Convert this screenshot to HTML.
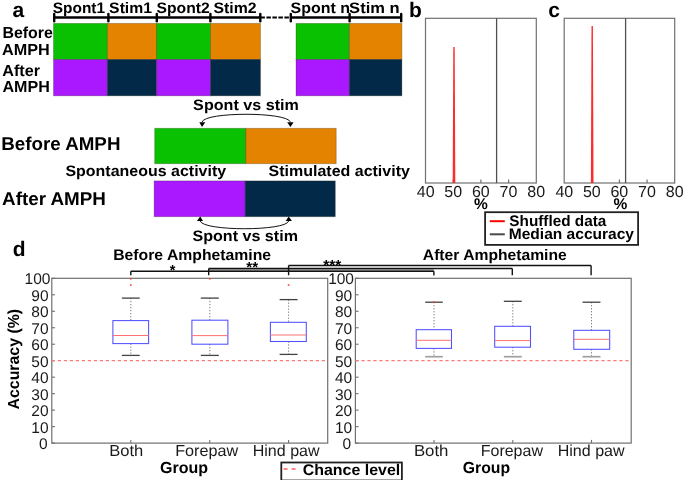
<!DOCTYPE html>
<html><head><meta charset="utf-8"><style>
html,body{margin:0;padding:0;background:#fff;}
svg{display:block;font-family:"Liberation Sans",sans-serif;text-rendering:geometricPrecision;will-change:transform;}
</style></head><body>
<svg width="685" height="480" viewBox="0 0 685 480">
<rect width="685" height="480" fill="#fff"/>
<text x="12.57" y="16.70" font-size="21" font-weight="bold" fill="#000">a</text>
<rect x="53.5" y="23.4" width="53.90" height="36.10" fill="#09c100" stroke="rgba(30,20,0,0.28)" stroke-width="0.9"/>
<rect x="53.5" y="59.5" width="53.90" height="36.30" fill="#aa18ff" stroke="rgba(30,20,0,0.28)" stroke-width="0.9"/>
<rect x="107.4" y="23.4" width="49.20" height="36.10" fill="#e38300" stroke="rgba(30,20,0,0.28)" stroke-width="0.9"/>
<rect x="107.4" y="59.5" width="49.20" height="36.30" fill="#022a48" stroke="rgba(30,20,0,0.28)" stroke-width="0.9"/>
<rect x="156.6" y="23.4" width="53.90" height="36.10" fill="#09c100" stroke="rgba(30,20,0,0.28)" stroke-width="0.9"/>
<rect x="156.6" y="59.5" width="53.90" height="36.30" fill="#aa18ff" stroke="rgba(30,20,0,0.28)" stroke-width="0.9"/>
<rect x="210.5" y="23.4" width="50.00" height="36.10" fill="#e38300" stroke="rgba(30,20,0,0.28)" stroke-width="0.9"/>
<rect x="210.5" y="59.5" width="50.00" height="36.30" fill="#022a48" stroke="rgba(30,20,0,0.28)" stroke-width="0.9"/>
<rect x="296.0" y="23.4" width="53.40" height="36.10" fill="#09c100" stroke="rgba(30,20,0,0.28)" stroke-width="0.9"/>
<rect x="296.0" y="59.5" width="53.40" height="36.30" fill="#aa18ff" stroke="rgba(30,20,0,0.28)" stroke-width="0.9"/>
<rect x="349.4" y="23.4" width="52.50" height="36.10" fill="#e38300" stroke="rgba(30,20,0,0.28)" stroke-width="0.9"/>
<rect x="349.4" y="59.5" width="52.50" height="36.30" fill="#022a48" stroke="rgba(30,20,0,0.28)" stroke-width="0.9"/>
<line x1="53.5" y1="17.5" x2="260.4" y2="17.5" stroke="#000" stroke-width="2.6"/>
<line x1="290.7" y1="17.5" x2="401.8" y2="17.5" stroke="#000" stroke-width="2.6"/>
<line x1="260.4" y1="17.5" x2="290.7" y2="17.5" stroke="#000" stroke-width="2.2" stroke-dasharray="4.5,1.5"/>
<line x1="54.2" y1="14.0" x2="54.2" y2="21.2" stroke="#000" stroke-width="2.4" stroke-linecap="round"/>
<line x1="108.4" y1="14.0" x2="108.4" y2="21.2" stroke="#000" stroke-width="2.4" stroke-linecap="round"/>
<line x1="156.8" y1="14.0" x2="156.8" y2="21.2" stroke="#000" stroke-width="2.4" stroke-linecap="round"/>
<line x1="210.4" y1="14.0" x2="210.4" y2="21.2" stroke="#000" stroke-width="2.4" stroke-linecap="round"/>
<line x1="260.3" y1="14.0" x2="260.3" y2="21.2" stroke="#000" stroke-width="2.4" stroke-linecap="round"/>
<line x1="290.8" y1="14.0" x2="290.8" y2="21.2" stroke="#000" stroke-width="2.4" stroke-linecap="round"/>
<line x1="349.6" y1="14.0" x2="349.6" y2="21.2" stroke="#000" stroke-width="2.4" stroke-linecap="round"/>
<line x1="401.2" y1="14.0" x2="401.2" y2="21.2" stroke="#000" stroke-width="2.4" stroke-linecap="round"/>
<text x="52.74" y="12.70" font-size="15.2" font-weight="bold" fill="#000" textLength="52.32" lengthAdjust="spacingAndGlyphs">Spont1</text>
<text x="109.14" y="12.70" font-size="15.2" font-weight="bold" fill="#000" textLength="42.88" lengthAdjust="spacingAndGlyphs">Stim1</text>
<text x="156.54" y="12.70" font-size="15.2" font-weight="bold" fill="#000" textLength="53.25" lengthAdjust="spacingAndGlyphs">Spont2</text>
<text x="213.54" y="12.70" font-size="15.2" font-weight="bold" fill="#000" textLength="43.11" lengthAdjust="spacingAndGlyphs">Stim2</text>
<text x="290.64" y="12.70" font-size="15.2" font-weight="bold" fill="#000" textLength="59.49" lengthAdjust="spacingAndGlyphs">Spont n</text>
<text x="349.14" y="12.70" font-size="15.2" font-weight="bold" fill="#000" textLength="50.48" lengthAdjust="spacingAndGlyphs">Stim n</text>
<text x="2.46" y="38.40" font-size="16" font-weight="bold" fill="#000" textLength="50.44" lengthAdjust="spacingAndGlyphs">Before</text>
<text x="2.10" y="54.50" font-size="16" font-weight="bold" fill="#000" textLength="47.71" lengthAdjust="spacingAndGlyphs">AMPH</text>
<text x="2.30" y="75.70" font-size="16" font-weight="bold" fill="#000" textLength="37.72" lengthAdjust="spacingAndGlyphs">After</text>
<text x="2.50" y="92.20" font-size="16" font-weight="bold" fill="#000" textLength="47.31" lengthAdjust="spacingAndGlyphs">AMPH</text>
<text x="193.14" y="110.30" font-size="15.2" font-weight="bold" fill="#000" textLength="105.72" lengthAdjust="spacingAndGlyphs">Spont vs stim</text>
<path d="M202,122 C205,111.7 287,111.7 290.4,122" stroke="#111" stroke-width="1.0" fill="none"/>
<path d="M199.3,122.3 L205.3,122.3 L202,126.9 Z" stroke="none" stroke-width="1" fill="#000"/>
<path d="M287.2,122.3 L293.6,122.3 L290.4,126.9 Z" stroke="none" stroke-width="1" fill="#000"/>
<rect x="154.7" y="128.3" width="91.10" height="35.40" fill="#09c100" stroke="rgba(30,20,0,0.28)" stroke-width="0.9"/>
<rect x="245.8" y="128.3" width="90.40" height="35.40" fill="#e38300" stroke="rgba(30,20,0,0.28)" stroke-width="0.9"/>
<text x="1.20" y="149.50" font-size="18.5" font-weight="bold" fill="#000" textLength="119.26" lengthAdjust="spacingAndGlyphs">Before AMPH</text>
<text x="65.44" y="176.00" font-size="15.2" font-weight="bold" fill="#000" textLength="160.68" lengthAdjust="spacingAndGlyphs">Spontaneous activity</text>
<text x="268.54" y="176.00" font-size="15.2" font-weight="bold" fill="#000" textLength="141.35" lengthAdjust="spacingAndGlyphs">Stimulated activity</text>
<rect x="154.1" y="180.9" width="91.10" height="35.80" fill="#aa18ff" stroke="rgba(30,20,0,0.28)" stroke-width="0.9"/>
<rect x="245.2" y="180.9" width="90.10" height="35.80" fill="#022a48" stroke="rgba(30,20,0,0.28)" stroke-width="0.9"/>
<text x="2.04" y="204.50" font-size="18.5" font-weight="bold" fill="#000" textLength="103.93" lengthAdjust="spacingAndGlyphs">After AMPH</text>
<path d="M200.2,221 C203,231.3 286,231.3 288.7,221" stroke="#111" stroke-width="1.0" fill="none"/>
<path d="M196.9,220.9 L203,220.9 L200.2,216.5 Z" stroke="none" stroke-width="1" fill="#000"/>
<path d="M285.7,220.9 L291.9,220.9 L288.7,216.5 Z" stroke="none" stroke-width="1" fill="#000"/>
<text x="192.44" y="240.70" font-size="15.2" font-weight="bold" fill="#000" textLength="105.52" lengthAdjust="spacingAndGlyphs">Spont vs stim</text>
<text x="409.03" y="16.80" font-size="21" font-weight="bold" fill="#000">b</text>
<rect x="425.5" y="18.3" width="110.80" height="164.70" fill="none" stroke="#707070" stroke-width="1.2"/>
<line x1="453.2" y1="183.0" x2="453.2" y2="179.5" stroke="#707070" stroke-width="1.2"/>
<line x1="480.9" y1="183.0" x2="480.9" y2="179.5" stroke="#707070" stroke-width="1.2"/>
<line x1="508.59999999999997" y1="183.0" x2="508.59999999999997" y2="179.5" stroke="#707070" stroke-width="1.2"/>
<text x="416.74" y="196.60" font-size="16" font-weight="normal" fill="#1a1a1a">40</text>
<text x="444.28" y="196.60" font-size="16" font-weight="normal" fill="#1a1a1a">50</text>
<text x="471.90" y="196.60" font-size="16" font-weight="normal" fill="#1a1a1a">60</text>
<text x="499.60" y="196.60" font-size="16" font-weight="normal" fill="#1a1a1a">70</text>
<text x="527.34" y="196.60" font-size="16" font-weight="normal" fill="#1a1a1a">80</text>
<text x="474.10" y="209.40" font-size="15.5" font-weight="bold" fill="#000">%</text>
<line x1="496.6" y1="18.3" x2="496.6" y2="183.0" stroke="#505050" stroke-width="1.3"/>
<path d="M453.3,46.9 L454.7,46.9 L455.3,183.0 L452.7,183.0 Z" stroke="none" stroke-width="1" fill="#ff2a2a"/>
<text x="548.16" y="16.80" font-size="21" font-weight="bold" fill="#000">c</text>
<rect x="564.2" y="18.3" width="110.50" height="164.70" fill="none" stroke="#707070" stroke-width="1.2"/>
<line x1="591.825" y1="183.0" x2="591.825" y2="179.5" stroke="#707070" stroke-width="1.2"/>
<line x1="619.45" y1="183.0" x2="619.45" y2="179.5" stroke="#707070" stroke-width="1.2"/>
<line x1="647.075" y1="183.0" x2="647.075" y2="179.5" stroke="#707070" stroke-width="1.2"/>
<text x="555.44" y="196.60" font-size="16" font-weight="normal" fill="#1a1a1a">40</text>
<text x="582.91" y="196.60" font-size="16" font-weight="normal" fill="#1a1a1a">50</text>
<text x="610.45" y="196.60" font-size="16" font-weight="normal" fill="#1a1a1a">60</text>
<text x="638.08" y="196.60" font-size="16" font-weight="normal" fill="#1a1a1a">70</text>
<text x="665.74" y="196.60" font-size="16" font-weight="normal" fill="#1a1a1a">80</text>
<text x="613.60" y="209.40" font-size="15.5" font-weight="bold" fill="#000">%</text>
<line x1="625.6" y1="18.3" x2="625.6" y2="183.0" stroke="#505050" stroke-width="1.3"/>
<path d="M591.5,26.0 L592.9000000000001,26.0 L593.5,183.0 L590.9000000000001,183.0 Z" stroke="none" stroke-width="1" fill="#ff2a2a"/>
<rect x="485.1" y="212.2" width="153" height="32.7" fill="#fff" stroke="#222" stroke-width="1.8"/>
<line x1="489.8" y1="221.2" x2="504.8" y2="221.2" stroke="#ff0000" stroke-width="2"/>
<line x1="489.8" y1="234.3" x2="504.8" y2="234.3" stroke="#4a4a4a" stroke-width="2"/>
<text x="509.34" y="226.20" font-size="15.3" font-weight="bold" fill="#000" textLength="96.99" lengthAdjust="spacingAndGlyphs">Shuffled data</text>
<text x="508.81" y="239.10" font-size="15.3" font-weight="bold" fill="#000" textLength="125.17" lengthAdjust="spacingAndGlyphs">Median accuracy</text>
<text x="12.66" y="255.50" font-size="21" font-weight="bold" fill="#000">d</text>
<text x="113.21" y="259.60" font-size="15.3" font-weight="bold" fill="#000" textLength="157.94" lengthAdjust="spacingAndGlyphs">Before Amphetamine</text>
<text x="422.82" y="259.70" font-size="15.3" font-weight="bold" fill="#000" textLength="143.94" lengthAdjust="spacingAndGlyphs">After Amphetamine</text>
<rect x="51.8" y="278.3" width="275.90" height="164.80" fill="#fff" stroke="#707070" stroke-width="1.2"/>
<line x1="51.8" y1="443.1" x2="55.0" y2="443.1" stroke="#707070" stroke-width="1.1"/>
<text x="38.94" y="449.00" font-size="15.5" font-weight="normal" fill="#1a1a1a">0</text>
<line x1="51.8" y1="426.62" x2="55.0" y2="426.62" stroke="#707070" stroke-width="1.1"/>
<text x="31.34" y="432.52" font-size="15.5" font-weight="normal" fill="#1a1a1a">10</text>
<line x1="51.8" y1="410.14000000000004" x2="55.0" y2="410.14000000000004" stroke="#707070" stroke-width="1.1"/>
<text x="31.34" y="416.04" font-size="15.5" font-weight="normal" fill="#1a1a1a">20</text>
<line x1="51.8" y1="393.66" x2="55.0" y2="393.66" stroke="#707070" stroke-width="1.1"/>
<text x="31.34" y="399.56" font-size="15.5" font-weight="normal" fill="#1a1a1a">30</text>
<line x1="51.8" y1="377.18" x2="55.0" y2="377.18" stroke="#707070" stroke-width="1.1"/>
<text x="31.34" y="383.08" font-size="15.5" font-weight="normal" fill="#1a1a1a">40</text>
<line x1="51.8" y1="360.70000000000005" x2="55.0" y2="360.70000000000005" stroke="#707070" stroke-width="1.1"/>
<text x="31.34" y="366.60" font-size="15.5" font-weight="normal" fill="#1a1a1a">50</text>
<line x1="51.8" y1="344.22" x2="55.0" y2="344.22" stroke="#707070" stroke-width="1.1"/>
<text x="31.34" y="350.12" font-size="15.5" font-weight="normal" fill="#1a1a1a">60</text>
<line x1="51.8" y1="327.74" x2="55.0" y2="327.74" stroke="#707070" stroke-width="1.1"/>
<text x="31.34" y="333.64" font-size="15.5" font-weight="normal" fill="#1a1a1a">70</text>
<line x1="51.8" y1="311.26" x2="55.0" y2="311.26" stroke="#707070" stroke-width="1.1"/>
<text x="31.34" y="317.16" font-size="15.5" font-weight="normal" fill="#1a1a1a">80</text>
<line x1="51.8" y1="294.78" x2="55.0" y2="294.78" stroke="#707070" stroke-width="1.1"/>
<text x="31.34" y="300.68" font-size="15.5" font-weight="normal" fill="#1a1a1a">90</text>
<line x1="51.8" y1="278.3" x2="55.0" y2="278.3" stroke="#707070" stroke-width="1.1"/>
<text x="24.53" y="284.20" font-size="15.5" font-weight="normal" fill="#1a1a1a">100</text>
<line x1="51.8" y1="360.70000000000005" x2="327.7" y2="360.70000000000005" stroke="#ff7a7a" stroke-width="1.3" stroke-dasharray="3.2,2.8"/>
<line x1="130.8" y1="443.1" x2="130.8" y2="439.90000000000003" stroke="#707070" stroke-width="1.1"/>
<line x1="130.8" y1="298.1" x2="130.8" y2="320.6" stroke="#555" stroke-width="0.9" stroke-dasharray="1.1,1.9"/>
<line x1="130.8" y1="343.6" x2="130.8" y2="355.4" stroke="#555" stroke-width="0.9" stroke-dasharray="1.1,1.9"/>
<line x1="121.87500000000001" y1="298.1" x2="139.72500000000002" y2="298.1" stroke="#404040" stroke-width="1.3"/>
<line x1="121.87500000000001" y1="355.4" x2="139.72500000000002" y2="355.4" stroke="#444" stroke-width="1.3"/>
<rect x="112.9" y="320.6" width="35.70" height="23.00" fill="none" stroke="#4f4fff" stroke-width="1.05"/>
<line x1="112.9" y1="335.5" x2="148.6" y2="335.5" stroke="#ff7070" stroke-width="1.0"/>
<rect x="130.0" y="278.0" width="1.60" height="1.60" fill="#ff3a3a"/>
<rect x="130.0" y="284.2" width="1.60" height="1.60" fill="#ff3a3a"/>
<line x1="209.8" y1="443.1" x2="209.8" y2="439.90000000000003" stroke="#707070" stroke-width="1.1"/>
<line x1="209.8" y1="298.1" x2="209.8" y2="320.2" stroke="#555" stroke-width="0.9" stroke-dasharray="1.1,1.9"/>
<line x1="209.8" y1="344.2" x2="209.8" y2="355.4" stroke="#555" stroke-width="0.9" stroke-dasharray="1.1,1.9"/>
<line x1="200.8" y1="298.1" x2="218.8" y2="298.1" stroke="#404040" stroke-width="1.3"/>
<line x1="200.8" y1="355.4" x2="218.8" y2="355.4" stroke="#444" stroke-width="1.3"/>
<rect x="191.9" y="320.2" width="36.00" height="24.00" fill="none" stroke="#4f4fff" stroke-width="1.05"/>
<line x1="191.9" y1="335.6" x2="227.9" y2="335.6" stroke="#ff7070" stroke-width="1.0"/>
<rect x="209.0" y="278.0" width="1.60" height="1.60" fill="#ff3a3a"/>
<line x1="288.6" y1="443.1" x2="288.6" y2="439.90000000000003" stroke="#707070" stroke-width="1.1"/>
<line x1="288.6" y1="299.6" x2="288.6" y2="322.3" stroke="#555" stroke-width="0.9" stroke-dasharray="1.1,1.9"/>
<line x1="288.6" y1="341.5" x2="288.6" y2="354.4" stroke="#555" stroke-width="0.9" stroke-dasharray="1.1,1.9"/>
<line x1="279.625" y1="299.6" x2="297.57500000000005" y2="299.6" stroke="#404040" stroke-width="1.3"/>
<line x1="279.625" y1="354.4" x2="297.57500000000005" y2="354.4" stroke="#444" stroke-width="1.3"/>
<rect x="270.4" y="322.3" width="35.90" height="19.20" fill="none" stroke="#4f4fff" stroke-width="1.05"/>
<line x1="270.4" y1="335.0" x2="306.3" y2="335.0" stroke="#ff7070" stroke-width="1.0"/>
<rect x="287.8" y="284.2" width="1.60" height="1.60" fill="#ff3a3a"/>
<text x="109.22" y="456.20" font-size="16" font-weight="normal" fill="#1a1a1a" textLength="34.05" lengthAdjust="spacingAndGlyphs">Both</text>
<text x="175.22" y="456.20" font-size="16" font-weight="normal" fill="#1a1a1a" textLength="62.91" lengthAdjust="spacingAndGlyphs">Forepaw</text>
<text x="252.72" y="456.20" font-size="16" font-weight="normal" fill="#1a1a1a" textLength="66.87" lengthAdjust="spacingAndGlyphs">Hind paw</text>
<rect x="355.4" y="278.3" width="275.80" height="164.80" fill="#fff" stroke="#707070" stroke-width="1.2"/>
<line x1="355.4" y1="443.1" x2="358.59999999999997" y2="443.1" stroke="#707070" stroke-width="1.1"/>
<text x="342.54" y="449.00" font-size="15.5" font-weight="normal" fill="#1a1a1a">0</text>
<line x1="355.4" y1="426.62" x2="358.59999999999997" y2="426.62" stroke="#707070" stroke-width="1.1"/>
<text x="334.94" y="432.52" font-size="15.5" font-weight="normal" fill="#1a1a1a">10</text>
<line x1="355.4" y1="410.14000000000004" x2="358.59999999999997" y2="410.14000000000004" stroke="#707070" stroke-width="1.1"/>
<text x="334.94" y="416.04" font-size="15.5" font-weight="normal" fill="#1a1a1a">20</text>
<line x1="355.4" y1="393.66" x2="358.59999999999997" y2="393.66" stroke="#707070" stroke-width="1.1"/>
<text x="334.94" y="399.56" font-size="15.5" font-weight="normal" fill="#1a1a1a">30</text>
<line x1="355.4" y1="377.18" x2="358.59999999999997" y2="377.18" stroke="#707070" stroke-width="1.1"/>
<text x="334.94" y="383.08" font-size="15.5" font-weight="normal" fill="#1a1a1a">40</text>
<line x1="355.4" y1="360.70000000000005" x2="358.59999999999997" y2="360.70000000000005" stroke="#707070" stroke-width="1.1"/>
<text x="334.94" y="366.60" font-size="15.5" font-weight="normal" fill="#1a1a1a">50</text>
<line x1="355.4" y1="344.22" x2="358.59999999999997" y2="344.22" stroke="#707070" stroke-width="1.1"/>
<text x="334.94" y="350.12" font-size="15.5" font-weight="normal" fill="#1a1a1a">60</text>
<line x1="355.4" y1="327.74" x2="358.59999999999997" y2="327.74" stroke="#707070" stroke-width="1.1"/>
<text x="334.94" y="333.64" font-size="15.5" font-weight="normal" fill="#1a1a1a">70</text>
<line x1="355.4" y1="311.26" x2="358.59999999999997" y2="311.26" stroke="#707070" stroke-width="1.1"/>
<text x="334.94" y="317.16" font-size="15.5" font-weight="normal" fill="#1a1a1a">80</text>
<line x1="355.4" y1="294.78" x2="358.59999999999997" y2="294.78" stroke="#707070" stroke-width="1.1"/>
<text x="334.94" y="300.68" font-size="15.5" font-weight="normal" fill="#1a1a1a">90</text>
<line x1="355.4" y1="278.3" x2="358.59999999999997" y2="278.3" stroke="#707070" stroke-width="1.1"/>
<text x="328.13" y="284.20" font-size="15.5" font-weight="normal" fill="#1a1a1a">100</text>
<line x1="355.4" y1="360.70000000000005" x2="631.2" y2="360.70000000000005" stroke="#ff7a7a" stroke-width="1.3" stroke-dasharray="3.2,2.8"/>
<line x1="434.0" y1="443.1" x2="434.0" y2="439.90000000000003" stroke="#707070" stroke-width="1.1"/>
<line x1="434.0" y1="302.2" x2="434.0" y2="329.7" stroke="#555" stroke-width="0.9" stroke-dasharray="1.1,1.9"/>
<line x1="434.0" y1="348.4" x2="434.0" y2="356.7" stroke="#555" stroke-width="0.9" stroke-dasharray="1.1,1.9"/>
<line x1="425.175" y1="302.2" x2="442.825" y2="302.2" stroke="#404040" stroke-width="1.3"/>
<line x1="425.175" y1="356.7" x2="442.825" y2="356.7" stroke="#a0a0a0" stroke-width="1.7"/>
<rect x="416.2" y="329.7" width="35.30" height="18.70" fill="none" stroke="#4f4fff" stroke-width="1.05"/>
<line x1="416.2" y1="340.3" x2="451.5" y2="340.3" stroke="#ff7070" stroke-width="1.0"/>
<rect x="433.2" y="301.4" width="1.60" height="1.60" fill="#ff3a3a"/>
<line x1="512.8" y1="443.1" x2="512.8" y2="439.90000000000003" stroke="#707070" stroke-width="1.1"/>
<line x1="512.8" y1="301.3" x2="512.8" y2="326.3" stroke="#555" stroke-width="0.9" stroke-dasharray="1.1,1.9"/>
<line x1="512.8" y1="347.2" x2="512.8" y2="356.7" stroke="#555" stroke-width="0.9" stroke-dasharray="1.1,1.9"/>
<line x1="503.84999999999997" y1="301.3" x2="521.75" y2="301.3" stroke="#404040" stroke-width="1.3"/>
<line x1="503.84999999999997" y1="356.7" x2="521.75" y2="356.7" stroke="#a0a0a0" stroke-width="1.7"/>
<rect x="494.7" y="326.3" width="35.80" height="20.90" fill="none" stroke="#4f4fff" stroke-width="1.05"/>
<line x1="494.7" y1="340.6" x2="530.5" y2="340.6" stroke="#ff7070" stroke-width="1.0"/>
<line x1="591.5" y1="443.1" x2="591.5" y2="439.90000000000003" stroke="#707070" stroke-width="1.1"/>
<line x1="591.5" y1="302.2" x2="591.5" y2="330.3" stroke="#555" stroke-width="0.9" stroke-dasharray="1.1,1.9"/>
<line x1="591.5" y1="349.3" x2="591.5" y2="356.7" stroke="#555" stroke-width="0.9" stroke-dasharray="1.1,1.9"/>
<line x1="582.525" y1="302.2" x2="600.475" y2="302.2" stroke="#404040" stroke-width="1.3"/>
<line x1="582.525" y1="356.7" x2="600.475" y2="356.7" stroke="#a0a0a0" stroke-width="1.7"/>
<rect x="573.8" y="330.3" width="35.90" height="19.00" fill="none" stroke="#4f4fff" stroke-width="1.05"/>
<line x1="573.8" y1="339.3" x2="609.7" y2="339.3" stroke="#ff7070" stroke-width="1.0"/>
<text x="413.92" y="456.20" font-size="16" font-weight="normal" fill="#1a1a1a" textLength="34.55" lengthAdjust="spacingAndGlyphs">Both</text>
<text x="480.72" y="456.20" font-size="16" font-weight="normal" fill="#1a1a1a" textLength="62.21" lengthAdjust="spacingAndGlyphs">Forepaw</text>
<text x="557.72" y="456.20" font-size="16" font-weight="normal" fill="#1a1a1a" textLength="66.87" lengthAdjust="spacingAndGlyphs">Hind paw</text>
<rect x="208.7" y="268.5" width="225.20" height="2.80" fill="#aaaaaa"/>
<line x1="130.8" y1="271.3" x2="433.9" y2="271.3" stroke="#111" stroke-width="1.4"/>
<line x1="130.8" y1="271.3" x2="130.8" y2="275.3" stroke="#111" stroke-width="1.4"/>
<line x1="433.9" y1="271.3" x2="433.9" y2="275.4" stroke="#111" stroke-width="1.4"/>
<line x1="208.7" y1="268.5" x2="512.3" y2="268.5" stroke="#111" stroke-width="1.4"/>
<line x1="208.7" y1="268.5" x2="208.7" y2="275.3" stroke="#111" stroke-width="1.4"/>
<line x1="512.3" y1="268.5" x2="512.3" y2="275.3" stroke="#111" stroke-width="1.4"/>
<line x1="288.6" y1="265.5" x2="591.1" y2="265.5" stroke="#111" stroke-width="1.4"/>
<line x1="288.6" y1="265.5" x2="288.6" y2="275.3" stroke="#111" stroke-width="1.4"/>
<line x1="591.1" y1="265.5" x2="591.1" y2="275.3" stroke="#111" stroke-width="1.4"/>
<text x="169.83" y="274.70" font-size="14.5" font-weight="bold" fill="#000">*</text>
<text x="246.33" y="272.20" font-size="14.5" font-weight="bold" fill="#000" textLength="11.82" lengthAdjust="spacingAndGlyphs">**</text>
<text x="323.33" y="269.61" font-size="14.5" font-weight="bold" fill="#000" textLength="18.01" lengthAdjust="spacingAndGlyphs">***</text>
<text x="159.96" y="472.90" font-size="16" font-weight="bold" fill="#000" textLength="48.07" lengthAdjust="spacingAndGlyphs">Group</text>
<text x="462.76" y="472.90" font-size="16" font-weight="bold" fill="#000" textLength="47.27" lengthAdjust="spacingAndGlyphs">Group</text>
<g transform="translate(19.3,409.50) rotate(-90)"><text x="0" y="0" font-size="16" font-weight="bold" textLength="100.64" lengthAdjust="spacingAndGlyphs">Accuracy (%)</text></g>
<rect x="281.3" y="462.5" width="120.6" height="18" fill="#fff" stroke="#222" stroke-width="1.8"/>
<line x1="283.6" y1="468.9" x2="299.6" y2="468.9" stroke="#ff6060" stroke-width="1.5" stroke-dasharray="4,4"/>
<text x="302.68" y="474.60" font-size="15.5" font-weight="bold" fill="#000" textLength="97.60" lengthAdjust="spacingAndGlyphs">Chance level</text>
</svg>
</body></html>
